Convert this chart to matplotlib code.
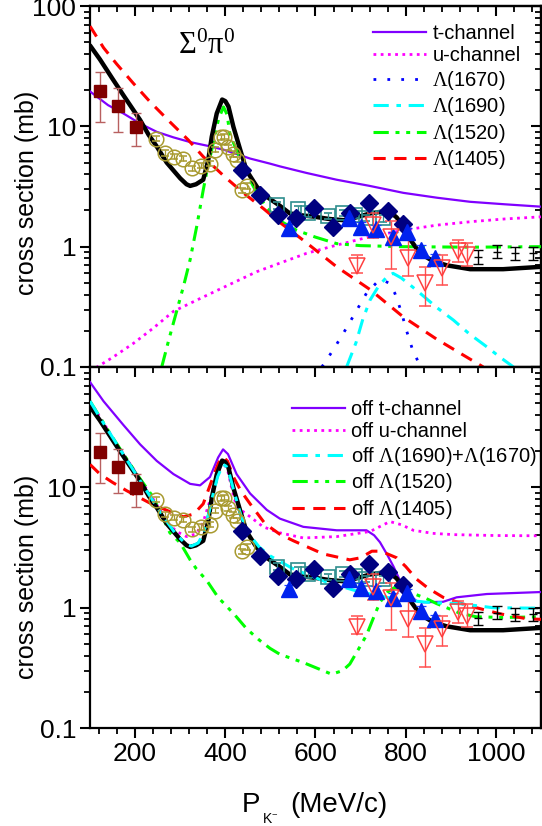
import numpy as np
import matplotlib
matplotlib.use("Agg")
import matplotlib.pyplot as plt
from matplotlib.ticker import MultipleLocator, LogLocator, FixedLocator, FixedFormatter, NullFormatter

plt.rcParams['font.family'] = ['Liberation Sans', 'DejaVu Sans']
plt.rcParams['mathtext.fontset'] = 'custom'
plt.rcParams['mathtext.rm'] = 'Liberation Serif'
plt.rcParams['mathtext.it'] = 'Liberation Serif:italic'
plt.rcParams['mathtext.bf'] = 'Liberation Serif:bold'
plt.rcParams['mathtext.sf'] = 'Liberation Sans'

# ---------------- data points (same in both panels) ----------------
sq_x = [122, 162, 202]
sq_y = [19.6, 14.8, 9.9]
sq_lo = [10.8, 8.9, 6.9]
sq_hi = [28.5, 20.7, 12.8]

circ_x = [246, 266, 286, 307, 327, 346, 366, 377, 390, 398, 405, 416, 425, 436, 447]
circ_y = [7.9, 6.0, 5.6, 5.4, 4.5, 4.7, 4.9, 6.4, 8.1, 8.2, 6.7, 5.9, 5.3, 2.95, 3.2]

dia_x = [436, 478, 517, 557, 597, 638, 676, 719, 761, 795]
dia_y = [4.3, 2.7, 1.85, 1.72, 2.08, 1.47, 1.89, 2.29, 1.98, 1.54]

osq_x = [514, 562, 584, 628, 660, 688, 713, 750]
osq_y = [2.2, 2.04, 1.89, 1.8, 1.91, 1.85, 1.74, 1.72]

tri_x = [542, 675, 702, 735, 771, 802, 835, 866]
tri_y = [1.42, 1.72, 1.47, 1.39, 1.21, 1.32, 0.94, 0.8]

dtri_x = [691, 728, 767, 806, 842, 880, 915, 935]
dtri_y = [0.69, 1.5, 1.21, 0.81, 0.5, 0.67, 0.92, 0.85]
dtri_lo = [0.6, 1.17, 0.65, 0.57, 0.32, 0.48, 0.75, 0.69]
dtri_hi = [0.85, 1.89, 1.62, 1.13, 0.68, 0.85, 1.13, 1.08]

blk_x = [961, 1003, 1042, 1083]
blk_y = [0.82, 0.91, 0.88, 0.88]
blk_lo = [0.72, 0.80, 0.78, 0.78]
blk_hi = [0.93, 1.03, 0.99, 0.99]

# ---------------- model curves ----------------
tot_x = [100, 122, 150, 175, 200, 211, 230, 248, 270, 285, 300, 314, 322, 335, 351, 362, 370, 381,
         393, 400, 407, 418, 433, 447, 470, 492, 520, 543, 570, 595, 630, 662, 690, 721, 745, 765,
         780, 795, 812, 832, 860, 891, 943, 1016, 1100]
tot_y = [47, 36, 24.8, 17.9, 13, 11.3, 8.5, 6.8, 5.0, 4.3, 3.7, 3.3, 3.2, 3.3, 3.6, 5.2, 8.2, 12.8,
         16.7, 16.2, 14.6, 9.9, 6.4, 4.3, 3.15, 2.6, 2.2, 1.89, 1.82, 1.78, 1.7, 1.66, 1.75, 1.89, 1.95, 1.95,
         1.75, 1.47, 1.12, 0.88, 0.76, 0.70, 0.65, 0.65, 0.68]

t_x = [100, 140, 174, 210, 248, 285, 322, 360, 396, 455, 499, 521, 580, 647, 720, 795, 870, 943, 1020, 1100]
t_y = [19.5, 15, 12.8, 10.6, 9.0, 8.1, 7.4, 6.9, 6.4, 5.4, 4.9, 4.65, 4.1, 3.6, 3.2, 2.8, 2.55, 2.36, 2.25, 2.15]

u_x = [100, 150, 196, 240, 285, 350, 417, 470, 521, 580, 647, 721, 800, 869, 950, 1020, 1100]
u_y = [0.092, 0.12, 0.157, 0.21, 0.29, 0.38, 0.5, 0.62, 0.73, 0.88, 1.03, 1.21, 1.38, 1.51, 1.62, 1.7, 1.77]

l1670_x = [614, 640, 665, 690, 713, 735, 748, 762, 776, 790, 802, 815, 828, 835]
l1670_y = [0.1, 0.14, 0.2, 0.29, 0.41, 0.5, 0.53, 0.5, 0.41, 0.29, 0.2, 0.14, 0.11, 0.1]

l1690_x = [669, 690, 705, 721, 740, 760, 772, 790, 810, 832, 870, 906, 940, 980, 1010, 1039]
l1690_y = [0.1, 0.16, 0.25, 0.36, 0.47, 0.57, 0.6, 0.55, 0.48, 0.41, 0.31, 0.245, 0.19, 0.147, 0.12, 0.1]

l1520_x = [259, 275, 292, 308, 322, 337, 351, 359, 373, 385, 396, 404, 410, 420, 433, 451, 470, 492,
           520, 558, 600, 647, 700, 795, 943, 1100]
l1520_y = [0.1, 0.17, 0.29, 0.48, 0.78, 1.5, 2.95, 4.2, 7.2, 11.5, 14.5, 12.5, 8.7, 7.0, 5.4, 3.8, 2.8, 2.1,
           1.65, 1.37, 1.2, 1.06, 1.02, 1.0, 0.99, 1.0]

l1405_x = [100, 130, 159, 196, 233, 277, 318, 351, 399, 440, 484, 520, 573, 647, 721, 795, 869, 972]
l1405_y = [68, 45, 33, 22.8, 16, 10.9, 7.7, 5.6, 3.8, 2.8, 2.08, 1.6, 1.13, 0.68, 0.44, 0.26, 0.17, 0.1]

# bottom panel ("off") curves
ot_x = [100, 130, 174, 211, 248, 285, 322, 344, 366, 384, 395, 406, 425, 455, 492, 521, 573, 647, 713,
        730, 743, 758, 773, 790, 810, 825, 839, 883, 913, 980, 1100]
ot_y = [75, 52, 33, 22.8, 16.6, 12.9, 10.7, 10.4, 12.2, 17.7, 20.7, 18.9, 12.9, 8.9, 6.5, 5.5, 4.7, 4.4, 4.4,
        4.0, 3.5, 2.8, 2.2, 1.6, 1.26, 1.13, 1.11, 1.12, 1.22, 1.3, 1.35]

ou_x = [100, 150, 200, 240, 274, 292, 314, 335, 350, 366, 380, 394, 405, 415, 425, 455, 484, 520, 573,
        647, 721, 765, 790, 817, 860, 906, 1000, 1100]
ou_y = [52, 26, 13.5, 8, 5.0, 4.3, 3.9, 4.1, 5.0, 7.8, 12.5, 16.5, 14, 9.5, 6.9, 5.7, 4.7, 4.2, 3.8,
        3.9, 4.3, 5.2, 4.9, 4.4, 4.15, 4.05, 3.98, 3.96]

oc_x = [100, 122, 150, 175, 200, 230, 260, 290, 314, 325, 340, 352, 362, 372, 383, 395, 402, 410, 420,
        435, 450, 475, 499, 551, 625, 699, 773, 846, 920, 994, 1100]
oc_y = [52, 38, 26, 18.5, 13.2, 8.8, 5.9, 4.1, 3.35, 3.25, 3.45, 4.2, 5.8, 8.5, 12.3, 15.5, 15.0, 12.5, 9.0,
        5.8, 4.2, 3.2, 2.7, 2.1, 1.63, 1.35, 1.19, 1.11, 1.08, 1.0, 0.99]

og_x = [100, 150, 200, 240, 277, 300, 322, 336, 359, 384, 420, 447, 475, 499, 521, 573, 636, 660, 676,
        695, 713, 730, 743, 760, 775, 795, 820, 846, 869, 891, 920, 957, 1020, 1100]
og_y = [52, 26, 13.5, 8.3, 4.2, 3.46, 2.5, 2.1, 1.68, 1.22, 0.88, 0.67, 0.54, 0.46, 0.41, 0.35, 0.28, 0.3, 0.34,
        0.45, 0.59, 0.85, 1.11, 1.35, 1.47, 1.45, 1.3, 1.19, 1.08, 1.0, 0.9, 0.84, 0.83, 0.84]

or_x = [100, 122, 150, 181, 230, 285, 307, 330, 351, 373, 385, 395, 405, 418, 435, 455, 488, 520, 551,
        617, 676, 700, 725, 745, 780, 800, 824, 850, 883, 935, 1009, 1068, 1100]
or_y = [15.5, 12.9, 11, 9.4, 7.5, 6.1, 5.7, 6.0, 7.3, 12.2, 16, 18, 16.5, 12.2, 9.3, 7.3, 5.0, 4.1, 3.6,
        2.8, 2.5, 2.6, 2.95, 2.95, 2.6, 2.2, 1.73, 1.45, 1.22, 1.05, 0.89, 0.81, 0.8]

ytick_vals = [0.1, 1, 10, 100]
ytick_labels = ['0.1', '1', '10', '100']
xtick_vals = [200, 400, 600, 800, 1000]
xtick_labels = ['200', '400', '600', '800', '1000']

# ---------------- styles ----------------
C_PURPLE = '#8000FF'
C_MAG = '#FF00FF'
C_BLUE = '#0000FF'
C_CYAN = '#00FFFF'
C_GREEN = '#00FF00'
C_RED = '#FF0000'

LS_U = (0, (1, 1.6))
LS_1670 = (0, (1, 4))
LS_1690 = (0, (5, 2.5, 1.5, 2.5))
LS_1520 = (0, (5, 2.2, 1.3, 2.2, 1.3, 2.2))
LS_1405 = (0, (4, 2.8))

fig = plt.figure(figsize=(5.42, 8.26), dpi=100)
ax1 = fig.add_axes([0.1661, 0.5557, 0.832, 0.437])
ax2 = fig.add_axes([0.1661, 0.1186, 0.832, 0.437])


def draw_data(ax):
    err = dict(capsize=3.5, elinewidth=1.0, capthick=1.0)
    ax.errorbar(sq_x, sq_y, yerr=[np.array(sq_y) - np.array(sq_lo), np.array(sq_hi) - np.array(sq_y)],
                fmt='s', ms=9, color='#800000', ecolor='#B86060', zorder=5, **err)
    cy = np.array(circ_y)
    ax.errorbar(circ_x, circ_y, yerr=0.05 * cy, fmt='o', ms=10.5, mfc='none', mec='#A89A30', mew=1.1,
                ecolor='#A89A30', zorder=5, capsize=3, elinewidth=0.9, capthick=0.9)
    ax.errorbar(osq_x, osq_y, yerr=0.06 * np.array(osq_y), fmt='s', ms=10, mfc='none', mec='#2E8E8E', mew=1.2,
                ecolor='#2E8E8E', zorder=5, capsize=3, elinewidth=0.9, capthick=0.9)
    ax.errorbar(dia_x, dia_y, yerr=0.08 * np.array(dia_y), fmt='D', ms=9.5, color='#000080', ecolor='#3030C0',
                zorder=6, capsize=3, elinewidth=0.9, capthick=0.9)
    ax.errorbar(tri_x, tri_y, yerr=0.09 * np.array(tri_y), fmt='^', ms=11, color='#0022EE', ecolor='#2040FF',
                zorder=6, capsize=3.5, elinewidth=0.9, capthick=0.9)
    ax.errorbar(dtri_x, dtri_y, yerr=[np.array(dtri_y) - np.array(dtri_lo), np.array(dtri_hi) - np.array(dtri_y)],
                fmt='v', ms=11, mfc='none', mec='#FF4040', mew=1.1, ecolor='#FF5050', zorder=6,
                capsize=4, elinewidth=1.0, capthick=1.0)
    ax.errorbar(blk_x, blk_y, yerr=[np.array(blk_y) - np.array(blk_lo), np.array(blk_hi) - np.array(blk_y)],
                fmt='_', ms=6, color='black', ecolor='black', zorder=6, capsize=3.5, elinewidth=1.0, capthick=1.0)


def style_axes(ax, show_x, ylabs):
    ax.set_xscale('linear')
    ax.set_yscale('log')
    ax.set_xlim(100, 1100)
    ax.set_ylim(0.1, 100)
    for s in ax.spines.values():
        s.set_linewidth(1.6)
    ax.xaxis.set_major_locator(FixedLocator(xtick_vals))
    ax.xaxis.set_minor_locator(MultipleLocator(40))
    if show_x:
        ax.xaxis.set_major_formatter(FixedFormatter(xtick_labels))
    else:
        ax.xaxis.set_major_formatter(NullFormatter())
    ax.yaxis.set_major_locator(FixedLocator(ytick_vals))
    ax.yaxis.set_major_formatter(FixedFormatter(ylabs))
    ax.yaxis.set_minor_locator(LogLocator(base=10, subs=np.arange(2, 10), numticks=20))
    ax.yaxis.set_minor_formatter(NullFormatter())
    ax.tick_params(which='major', direction='out', length=7, width=1.5, labelsize=19, pad=3,
                   top=False, right=False)
    ax.tick_params(which='minor', direction='out', length=4, width=1.3, top=False, right=False)
    sx = ax.secondary_xaxis('top')
    sx.xaxis.set_major_locator(FixedLocator(xtick_vals))
    sx.xaxis.set_minor_locator(MultipleLocator(40))
    sx.tick_params(which='major', direction='in', length=7, width=1.5, labeltop=False)
    sx.tick_params(which='minor', direction='in', length=4, width=1.3)
    sy = ax.secondary_yaxis('right')
    sy.yaxis.set_major_locator(FixedLocator(ytick_vals))
    sy.yaxis.set_minor_locator(LogLocator(base=10, subs=np.arange(2, 10), numticks=20))
    sy.yaxis.set_minor_formatter(NullFormatter())
    sy.tick_params(which='major', direction='in', length=7, width=1.5, labelright=False)
    sy.tick_params(which='minor', direction='in', length=4, width=1.3)
    for s in list(sx.spines.values()) + list(sy.spines.values()):
        s.set_linewidth(1.6)


# ---------------- top panel ----------------
ax1.plot(tot_x, tot_y, color='black', lw=3.2, zorder=4, solid_capstyle='round')
ax1.plot(t_x, t_y, color=C_PURPLE, lw=1.6, label='t-channel', zorder=3)
ax1.plot(u_x, u_y, color=C_MAG, lw=2.0, ls=LS_U, label='u-channel', zorder=3)
ax1.plot(l1670_x, l1670_y, color=C_BLUE, lw=2.0, ls=LS_1670, label=r'$\mathrm{\Lambda}$(1670)', zorder=3)
ax1.plot(l1690_x, l1690_y, color=C_CYAN, lw=2.2, ls=LS_1690, label=r'$\mathrm{\Lambda}$(1690)', zorder=3)
ax1.plot(l1520_x, l1520_y, color=C_GREEN, lw=2.2, ls=LS_1520, label=r'$\mathrm{\Lambda}$(1520)', zorder=3)
ax1.plot(l1405_x, l1405_y, color=C_RED, lw=2.2, ls=LS_1405, label=r'$\mathrm{\Lambda}$(1405)', zorder=3)
draw_data(ax1)
style_axes(ax1, False, ytick_labels)
leg1 = ax1.legend(loc='upper left', bbox_to_anchor=(373 / 542, 1 - 24 / 826), bbox_transform=fig.transFigure,
                  frameon=False, fontsize=14.5, handlelength=2.65, handletextpad=0.3, labelspacing=0.17,
                  borderpad=0, borderaxespad=0)

fig.text(178 / 542, 1 - 46 / 826, r'$\mathrm{\Sigma^{0}\pi^{0}}$', fontsize=22, ha='left', va='center')

# ---------------- bottom panel ----------------
ax2.plot(tot_x, tot_y, color='black', lw=3.2, zorder=4, solid_capstyle='round')
ax2.plot(ot_x, ot_y, color=C_PURPLE, lw=1.6, label='off t-channel', zorder=3)
ax2.plot(ou_x, ou_y, color=C_MAG, lw=2.0, ls=LS_U, label='off u-channel', zorder=3)
ax2.plot(oc_x, oc_y, color=C_CYAN, lw=2.2, ls=LS_1690,
         label=r'off $\mathrm{\Lambda}$(1690)+$\mathrm{\Lambda}$(1670)', zorder=4.5)
ax2.plot(og_x, og_y, color=C_GREEN, lw=2.2, ls=LS_1520, label=r'off $\mathrm{\Lambda}$(1520)', zorder=3)
ax2.plot(or_x, or_y, color=C_RED, lw=2.2, ls=LS_1405, label=r'off $\mathrm{\Lambda}$(1405)', zorder=3)
draw_data(ax2)
style_axes(ax2, True, ['0.1', '1', '10', ''])
leg2 = ax2.legend(loc='upper left', bbox_to_anchor=(292 / 542, 1 - 400 / 826), bbox_transform=fig.transFigure,
                  frameon=False, fontsize=14.5, handlelength=2.65, handletextpad=0.3, labelspacing=0.17,
                  borderpad=0, borderaxespad=0)

# ---------------- axis titles ----------------
fig.text(27 / 542, 1 - 193 / 826, 'cross section (mb)', rotation=90, fontsize=18, ha='center', va='center')
fig.text(27 / 542, 1 - 577 / 826, 'cross section (mb)', rotation=90, fontsize=18, ha='center', va='center')
fig.text(242 / 542, 1 - 812 / 826, 'P', fontsize=20, ha='left', va='baseline')
fig.text(262 / 542, 1 - 823 / 826, r'$\mathsf{K}^{-}$', fontsize=10, ha='left', va='baseline')
fig.text(290 / 542, 1 - 812 / 826, '(MeV/c)', fontsize=20, ha='left', va='baseline')

fig.savefig('out.png', dpi=100)
